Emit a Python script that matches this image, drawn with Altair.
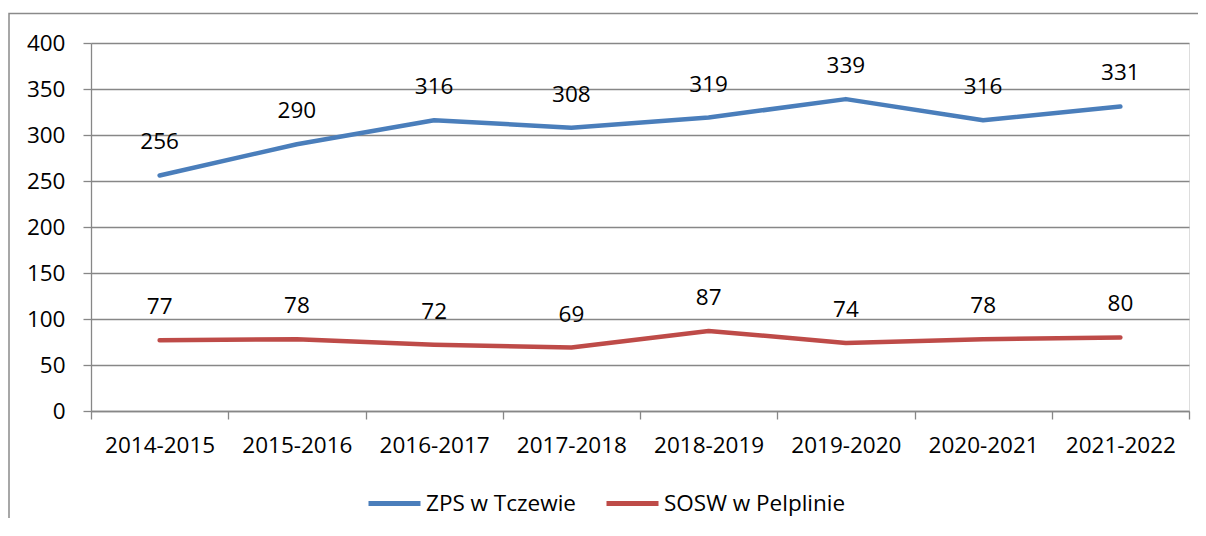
import altair as alt
import pandas as pd

years = ["2014-2015", "2015-2016", "2016-2017", "2017-2018",
         "2018-2019", "2019-2020", "2020-2021", "2021-2022"]
series_names = ["ZPS w Tczewie", "SOSW w Pelplinie"]
zps = [256, 290, 316, 308, 319, 339, 316, 331]
sosw = [77, 78, 72, 69, 87, 74, 78, 80]
colors = ["#4A7EBB", "#BE4B48"]
y_ticks = [0, 50, 100, 150, 200, 250, 300, 350, 400]

rows = []
for name, vals in zip(series_names, [zps, sosw]):
    for yr, v in zip(years, vals):
        rows.append({"year": yr, "series": name, "value": v})
df = pd.DataFrame(rows)

FONT = "Open Sans"
FS = 22.5
GRID = "#878787"
W, H = 1098, 368

x = alt.X("year:N", sort=years, title=None,
          scale=alt.Scale(paddingInner=0, paddingOuter=0),
          axis=alt.Axis(labelAngle=0, tickBand="extent", tickSize=8,
                        tickColor=GRID, domainColor=GRID, domainWidth=1.3,
                        tickWidth=1.3, labelFontSize=FS, labelFont=FONT,
                        labelColor="black", labelPadding=15, grid=False))
y = alt.Y("value:Q", title=None,
          scale=alt.Scale(domain=[0, 400], nice=False),
          axis=alt.Axis(values=y_ticks, tickSize=8, tickColor=GRID,
                        domainColor=GRID, domainWidth=1.3, tickWidth=1.3,
                        gridColor=GRID, gridWidth=1.3, grid=True,
                        labelFontSize=FS, labelFont=FONT, labelColor="black",
                        labelPadding=18))
color = alt.Color("series:N", sort=series_names,
                  scale=alt.Scale(domain=series_names, range=colors),
                  legend=alt.Legend(title=None, orient="none", direction="horizontal",
                                    legendX=275, legendY=432,
                                    symbolType="stroke", symbolSize=2704,
                                    symbolStrokeWidth=5, labelFontSize=FS,
                                    labelFont=FONT, labelColor="black",
                                    labelLimit=400,
                                    labelOffset=3, columnPadding=20, padding=0))

frame = alt.Chart(pd.DataFrame({"k": [0]})).mark_rect(
    fill="transparent", stroke="#8A8A8A", strokeWidth=1.5
).encode(x=alt.value(-82), x2=alt.value(1300), y=alt.value(-29.5), y2=alt.value(600))

lines = alt.Chart(df).mark_line(strokeWidth=4.5, strokeCap="round", strokeJoin="round").encode(
    x=x, y=y, color=color)

labels = alt.Chart(df).mark_text(dy=-33, baseline="middle", align="center",
                                 fontSize=FS, font=FONT, color="black").encode(
    x=alt.X("year:N", sort=years), y=alt.Y("value:Q"), text=alt.Text("value:Q"))

chart = alt.layer(frame, lines, labels).properties(
    width=W, height=H,
    autosize=alt.AutoSizeParams(type="none"),
    padding={"left": 83, "top": 35, "right": 9, "bottom": 107},
).configure_view(strokeOpacity=0).configure(background="white")

chart.save("out.html", embed_options={"renderer": "svg", "actions": False})
